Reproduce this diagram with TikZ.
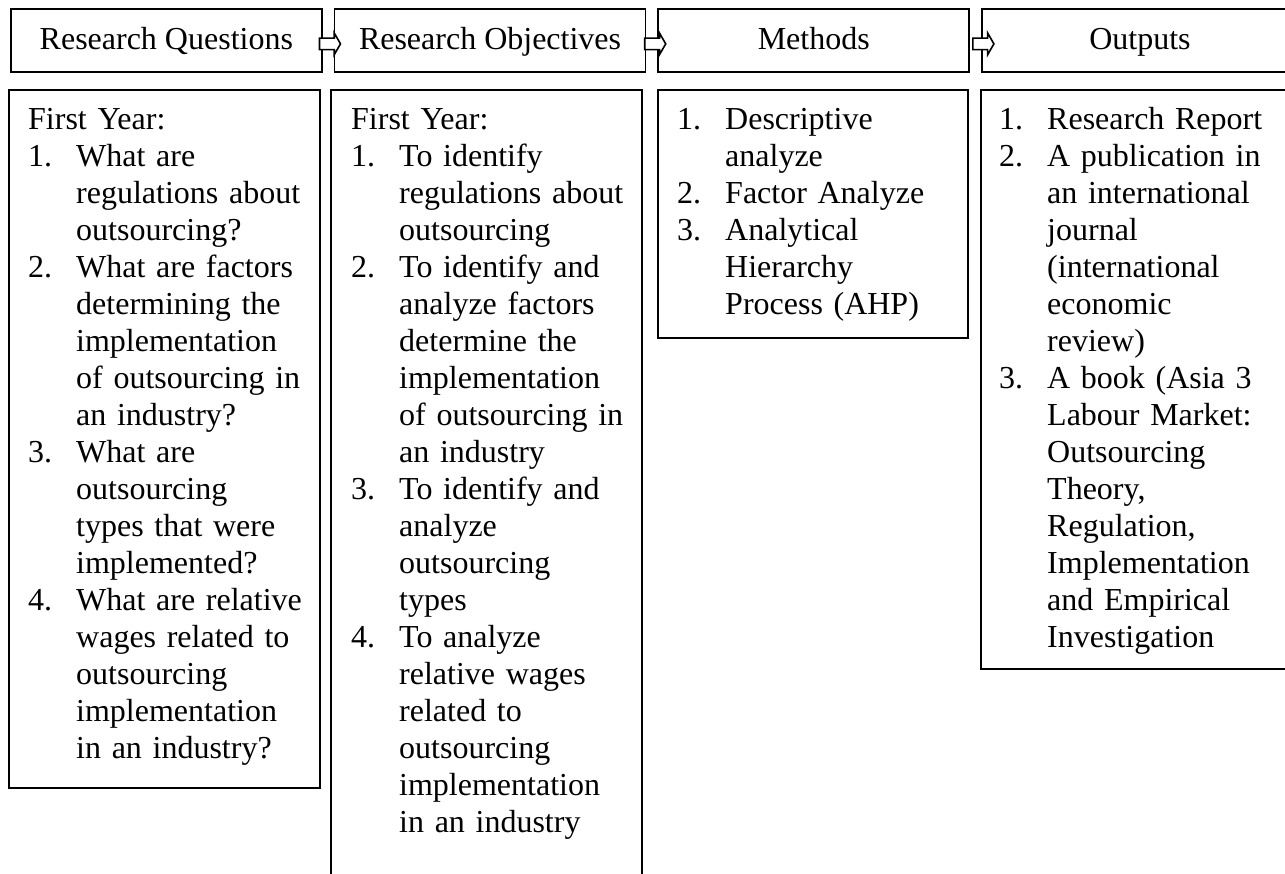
\documentclass[tikz,border=0pt]{standalone}
\usepackage{fontspec}
\setmainfont{Liberation Serif}
\usepackage{tikz}
\usetikzlibrary{positioning,shapes.arrows}

\newcommand{\itm}[1]{\makebox[48pt][l]{#1}}
\newcommand{\cont}{\hspace*{48pt}}

\begin{document}
\begin{tikzpicture}[
    x=1pt, y=-1pt,
    headbox/.style={rectangle, draw, line width=1.7pt, minimum width=311pt, minimum height=63pt, text height=22pt, text depth=3pt, inner sep=0pt, font=\fontsize{32pt}{37pt}\selectfont},
    bodybox/.style={rectangle, draw, line width=1.7pt, minimum width=311pt, anchor=north west, inner sep=0pt},
    listtext/.style={anchor=base west, inner sep=0pt, text width=290pt, align=left, font=\fontsize{32pt}{37pt}\selectfont},
    flowarrow/.style={single arrow, draw, fill=white, line width=1.6pt, inner sep=0pt, text height=5pt, text depth=5pt, minimum height=21pt, minimum width=20pt, single arrow head extend=5pt, single arrow tip angle=120, anchor=tail}
]
\useasboundingbox (0,0) rectangle (1285,873);
\clip (0,0) rectangle (1285,873);

% Headings
\node[headbox, anchor=north west] (questhead) at (10,8) {Research Questions};
\node[headbox, right=11pt of questhead] (objhead) {Research Objectives};
\node[headbox, right=11pt of objhead] (methhead) {Methods};
\node[headbox, right=11pt of methhead, minimum width=316pt] (outhead) {Outputs};

% Boxes below the headings
\node[bodybox, minimum height=698pt] (questbox) at (8,89) {};
\node[bodybox, minimum height=820pt] (objbox) at (330,89) {};
\node[bodybox, minimum width=310pt, minimum height=248pt] (methbox) at (657,89) {};
\node[bodybox, minimum height=579pt] (outbox) at (980,89) {};

% Research questions
\node[listtext] (questlist) at ([shift={(20,40)}]questbox.north west) {First Year:\\
\itm{1.}What are\\
\cont regulations about\\
\cont outsourcing?\\
\itm{2.}What are factors\\
\cont determining the\\
\cont implementation\\
\cont of outsourcing in\\
\cont an industry?\\
\itm{3.}What are\\
\cont outsourcing\\
\cont types that were\\
\cont implemented?\\
\itm{4.}What are relative\\
\cont wages related to\\
\cont outsourcing\\
\cont implementation\\
\cont in an industry?};

% Research objectives
\node[listtext] (objlist) at ([shift={(21,40)}]objbox.north west) {First Year:\\
\itm{1.}To identify\\
\cont regulations about\\
\cont outsourcing\\
\itm{2.}To identify and\\
\cont analyze factors\\
\cont determine the\\
\cont implementation\\
\cont of outsourcing in\\
\cont an industry\\
\itm{3.}To identify and\\
\cont analyze\\
\cont outsourcing\\
\cont types\\
\itm{4.}To analyze\\
\cont relative wages\\
\cont related to\\
\cont outsourcing\\
\cont implementation\\
\cont in an industry};

% Methods
\node[listtext] (methlist) at ([shift={(20,40)}]methbox.north west) {\itm{1.}Descriptive\\
\cont analyze\\
\itm{2.}Factor Analyze\\
\itm{3.}Analytical\\
\cont Hierarchy\\
\cont Process (AHP)};

% Outputs
\node[listtext] (outlist) at ([shift={(19,40)}]outbox.north west) {\itm{1.}Research Report\\
\itm{2.}A publication in\\
\cont an international\\
\cont journal\\
\cont (international\\
\cont economic\\
\cont review)\\
\itm{3.}A book (Asia 3\\
\cont Labour Market:\\
\cont Outsourcing\\
\cont Theory,\\
\cont Regulation,\\
\cont Implementation\\
\cont and Empirical\\
\cont Investigation};

% Arrows between headings
\node[flowarrow] (quest2obj) at ([shift={(-4,3.5)}]questhead.east) {};
\node[flowarrow] (obj2meth) at ([shift={(-2.5,3.5)}]objhead.east) {};
\node[flowarrow] (meth2out) at ([shift={(2,3.5)}]methhead.east) {};

\end{tikzpicture}
\end{document}
